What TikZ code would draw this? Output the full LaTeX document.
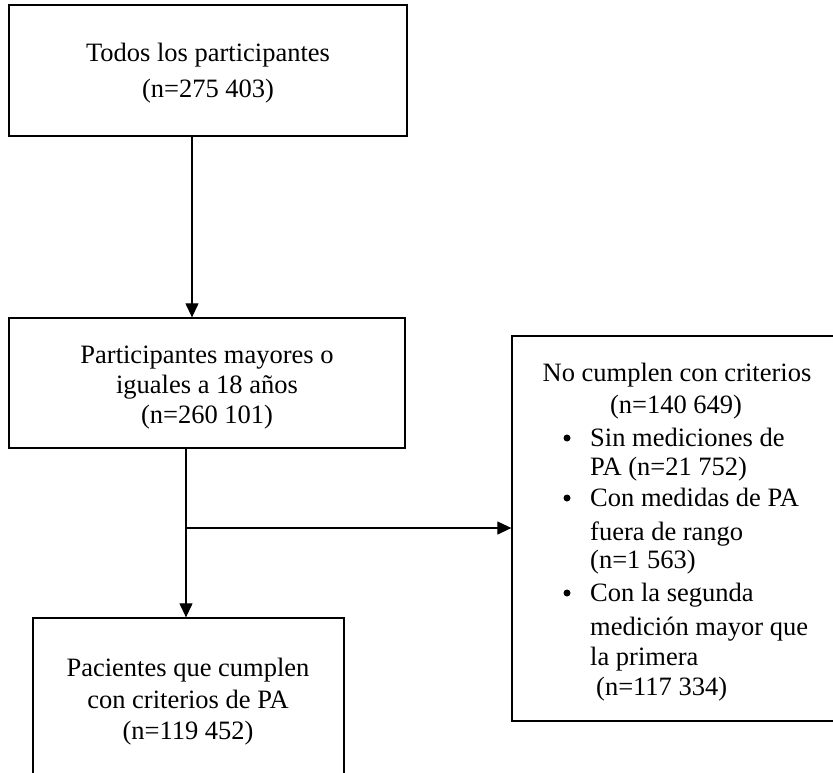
\documentclass[tikz,border=0pt]{standalone}
\usepackage{fontspec}
\setmainfont{Liberation Serif}
\usetikzlibrary{arrows.meta}
\begin{document}
\begin{tikzpicture}[x=1pt,y=-1pt,
  box/.style={draw, line width=1.3pt, rectangle, inner sep=0pt},
  txt/.style={font=\fontsize{26.5}{31.5}\selectfont, inner sep=0pt, anchor=base},
  ltxt/.style={txt, anchor=base west},
  dot/.style={circle, fill=black, inner sep=0pt, minimum size=7pt},
  arr/.style={line width=1.2pt, -{Triangle[length=14pt,width=13pt]}}]
\useasboundingbox (0,0) rectangle (833,772);
\clip (0,0) rectangle (833,772);
% boxes
\node[box, minimum width=398pt, minimum height=131pt] (b1) at (208,70.5) {};
\node[box, minimum width=396pt, minimum height=130pt] (b2) at (207,383) {};
\node[box, minimum width=330pt, minimum height=385pt] (b3) at (677,528.5) {};
\node[box, minimum width=311pt, minimum height=200pt] (b4) at (188.5,718) {};
% texts box 1
\node[txt] (t1a) at (208,61) {Todos los participantes};
\node[txt] (t1b) at (208,97) {(n=275 403)};
% box 2
\node[txt] (t2a) at (207,363) {Participantes mayores o};
\node[txt] (t2b) at (207,393) {iguales a 18 años};
\node[txt] (t2c) at (207,423) {(n=260 101)};
% box 3
\node[txt] (t3a) at (677,381) {No cumplen con criterios};
\node[txt] (t3b) at (676,413) {(n=140 649)};
\node[dot] (u1) at (567,438) {};
\node[ltxt] (i1a) at (590,446) {Sin mediciones de};
\node[ltxt] (i1b) at (590,475) {PA (n=21 752)};
\node[dot] (u2) at (567,498) {};
\node[ltxt] (i2a) at (590,506) {Con medidas de PA};
\node[ltxt] (i2b) at (590,540) {fuera de rango};
\node[ltxt] (i2c) at (590,568) {(n=1 563)};
\node[dot] (u3) at (567,593) {};
\node[ltxt] (i3a) at (590,601) {Con la segunda};
\node[ltxt] (i3b) at (590,635) {medición mayor que};
\node[ltxt] (i3c) at (590,665) {la primera};
\node[ltxt] (i3d) at (596,695) {(n=117 334)};
% box 4
\node[txt] (t4a) at (188,676) {Pacientes que cumplen};
\node[txt] (t4b) at (188,708) {con criterios de PA};
\node[txt] (t4c) at (188,739) {(n=119 452)};
% connectors
\draw[arr] (b1.south -| 192,0) -- (b2.north -| 192,0);
\draw[arr] (b2.south -| 186,0) -- (b4.north -| 186,0);
\coordinate (jn) at (186,528);
\draw[arr] (jn) -- (jn -| b3.west);
\end{tikzpicture}
\end{document}
